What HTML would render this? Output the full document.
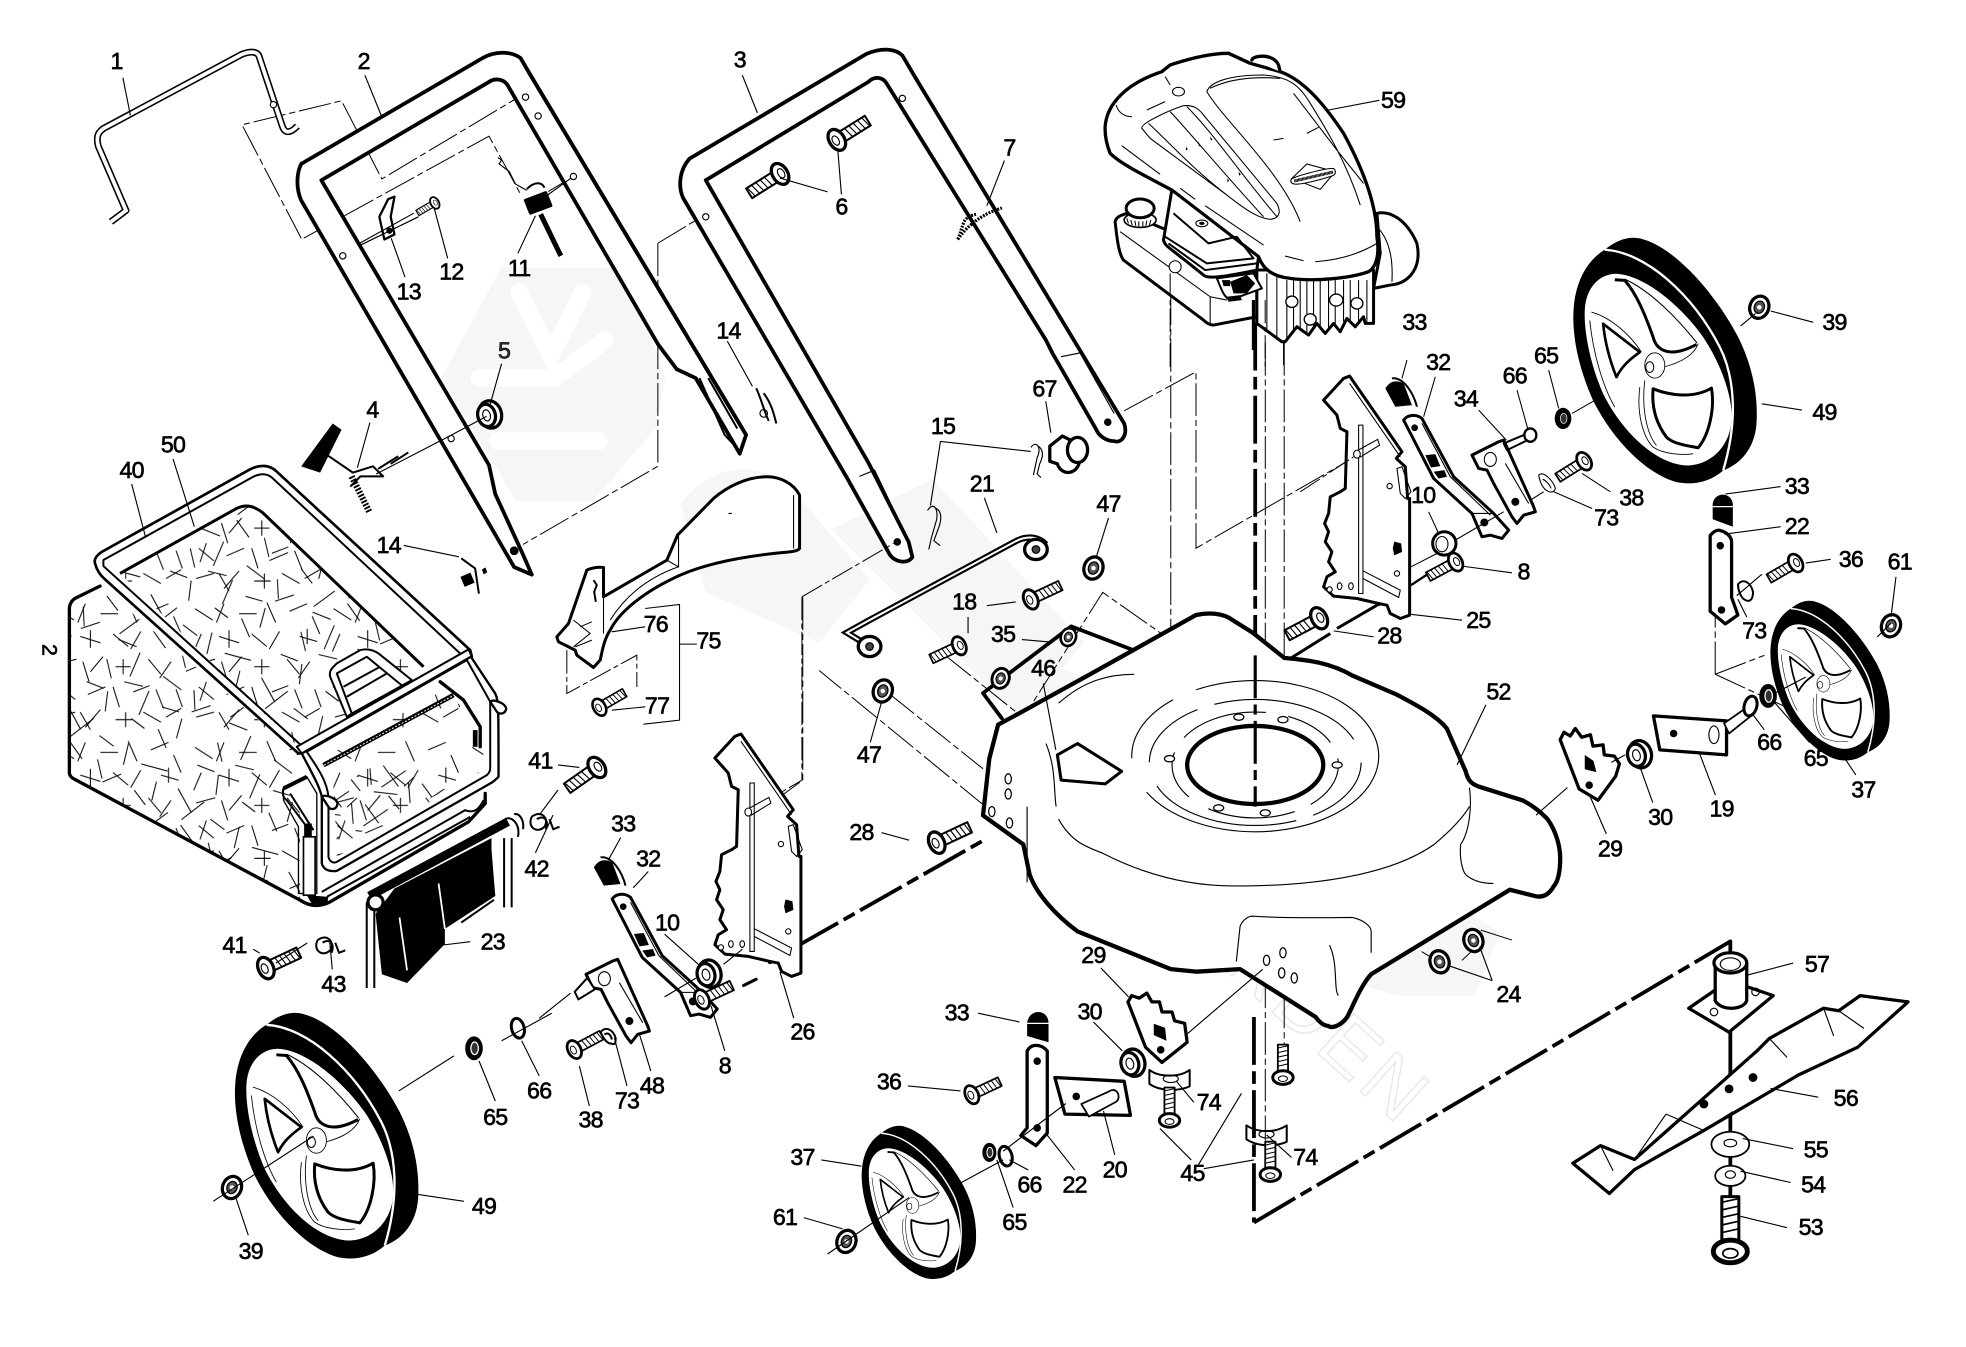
<!DOCTYPE html>
<html><head><meta charset="utf-8"><style>
html,body{margin:0;padding:0;background:#fff}
svg{display:block}
text{font-family:"Liberation Sans",sans-serif;font-size:18.5px;fill:#000;text-anchor:middle;stroke:#000;stroke-width:.5;letter-spacing:-.6px}
.k{fill:none;stroke:#000;stroke-width:3;stroke-linejoin:round;stroke-linecap:round}
.w{fill:#fff;stroke:#000;stroke-width:2.6;stroke-linejoin:round}
.m{fill:none;stroke:#000;stroke-width:1.6;stroke-linejoin:round}
.n{fill:none;stroke:#000;stroke-width:.9}
.d{fill:none;stroke:#000;stroke-width:.8;stroke-dasharray:26 3 5 3}
.kd{fill:none;stroke:#000;stroke-width:3;stroke-dasharray:38 5 10 5}
.b{fill:#000;stroke:#000}
.zk{fill:none;stroke:#000;stroke-width:10;stroke-linejoin:round;stroke-linecap:round}
.zw{fill:#fff;stroke:#000;stroke-width:9;stroke-linejoin:round}
.zm{fill:none;stroke:#000;stroke-width:6;stroke-linejoin:round}
.zn{fill:none;stroke:#000;stroke-width:3.2}
.zt{fill:#fff;stroke:#000;stroke-width:3.2}
.zd{fill:none;stroke:#000;stroke-width:3;stroke-dasharray:70 10 15 10}
</style></head><body>
<svg width="1966" height="1347" viewBox="0 0 1560 1068.8" xmlns="http://www.w3.org/2000/svg">
<defs>
<pattern id="fab" width="110" height="110" patternUnits="userSpaceOnUse" patternTransform="scale(3.78)">
<path fill="none" stroke="#000" stroke-width=".8" d="M5 8l14 9M28 4l-6 15M40 12h14M62 3l7 16M80 10l14-6M98 14l6 14M10 28l-6 14M24 30l16 5M32 25v14M50 28l12 10M72 26l-8 14M88 30l14 4M94 24v12M6 52l15-4M26 50l5 16M42 46l-10 12M52 54h12M58 48v12M78 48l10 12M96 50l-9 13M8 70l12 10M14 66l-5 15M30 76l14-6M50 70l5 16M66 74l13-5M84 72l6 15M100 72l5 14M6 94l14-4M24 90l8 14M40 88l-12 14M52 96h13M60 90v12M74 90l14 8M92 94l12-7"/>
</pattern>
<pattern id="fab2" width="110" height="110" patternUnits="userSpaceOnUse" patternTransform="scale(3.78) rotate(37) translate(13 29)">
<path fill="none" stroke="#000" stroke-width=".8" d="M5 8l20 9M28 4l-6 22M40 12h14M62 3l7 16M80 10l20-8M98 14l6 14M10 28l-6 20M24 30l16 5M50 28l12 10M72 26l-8 14M88 30l14 4M6 52l15-4M26 50l5 20M52 54h18M78 48l10 12M96 50l-9 13M8 70l12 10M30 76l14-6M50 70l5 20M66 74l13-5M84 72l6 15M6 94l14-4M24 90l8 14M52 96h13M74 90l14 8"/>
</pattern>
<pattern id="mesh" width="50" height="50" patternUnits="userSpaceOnUse" patternTransform="scale(3.78)">
<path fill="none" stroke="#000" stroke-width=".8" d="M2 6l14 12M20 2l-8 16M26 10l16-6M40 14l8 12M4 28l16-6M18 26l6 16M30 24l14 10M44 22l-12 14M6 42l14-3M26 42l14 6M40 42l6-12M12 34l-8 12"/>
</pattern>
<pattern id="mesh2" width="34" height="34" patternUnits="userSpaceOnUse" patternTransform="scale(3.78) rotate(25)">
<path fill="none" stroke="#000" stroke-width=".8" d="M2 6l18 10M20 2l-12 20M26 10l8 14M4 28l18-6M16 26l12 6M28 4l-4 10"/>
</pattern>
<g id="bolt">
<rect x="3" y="-4.5" width="26" height="9" class="w" style="stroke-width:1.6"/>
<path class="n" d="M10-4.5l2 9M14-4.5l2 9M18-4.5l2 9M22-4.5l2 9M26-4.5l2 9"/>
<ellipse cx="0" rx="6" ry="9" class="w"/><ellipse cx="-1" rx="2.5" ry="4" class="n"/>
</g>
<g id="nut"><ellipse rx="7.5" ry="9" class="w"/><ellipse rx="4" ry="5" class="b" style="fill:#555"/><circle r="1.8" fill="#fff"/></g>
<g id="wash"><ellipse rx="6.5" ry="9" class="b"/><ellipse cx=".5" rx="3" ry="5" fill="#333" stroke="#fff"/></g>
<g id="ring"><ellipse rx="5" ry="8" fill="#fff" stroke="#000" stroke-width="2.4"/></g>
<g id="spacer"><ellipse cx="2" rx="9" ry="11" class="w"/><ellipse cx="-1" rx="7" ry="9" class="w"/><ellipse cx="-1" rx="3" ry="4.5" class="n"/></g>
<g id="wheel">
<path fill="#000" d="M135 88C175 55 215 45 250 57 350 85 470 225 535 350 580 440 595 530 590 610 585 680 545 730 490 750 450 785 400 795 350 785 260 760 160 660 100 540 55 440 35 340 42 260 50 170 90 115 135 88Z"/>
<path fill="none" stroke="#fff" stroke-width="7" d="M135 88C260 95 400 225 480 380 525 470 535 600 490 750"/>
<path fill="#fff" d="M75 270C78 200 120 160 170 160 260 165 370 265 430 350 490 440 520 540 515 600 510 680 450 735 380 735 290 730 190 640 130 520 95 440 72 340 75 270Z"/>
<path fill="none" stroke="#000" stroke-width="9" stroke-linejoin="round" d="M165 178L195 180C230 220 255 280 280 350 290 390 330 415 410 372"/>
<path fill="none" stroke="#000" stroke-width="3.2" d="M195 176C270 210 350 290 412 368"/>
<path fill="#fff" stroke="#000" stroke-width="8" stroke-linejoin="round" d="M130 310L240 395C205 420 185 440 170 470 150 420 135 360 130 310Z"/>
<path fill="#fff" stroke="#000" stroke-width="9" stroke-linejoin="round" d="M280 505C330 525 400 535 455 503 465 560 450 640 415 682 380 675 340 670 320 650 290 610 275 560 280 505Z"/>
<path fill="none" stroke="#000" stroke-width="2.6" d="M95 275C150 290 210 340 245 395M90 300C100 400 130 500 165 560M240 500C230 580 250 650 280 680 310 700 360 705 400 700M310 440C350 430 400 410 415 370M255 480C245 560 260 640 290 675"/>
<ellipse cx="285" cy="435" rx="30" ry="38" fill="#fff" stroke="#000" stroke-width="2.6"/>
<ellipse cx="270" cy="440" rx="12" ry="16" fill="#fff" stroke="#000" stroke-width="3"/>
</g>
<g id="brk">
<path class="zw" d="M100 120L160 55 178 48 335 275 318 295 345 320 352 415 358 415V765L330 775 300 760 290 735 265 730 200 715 130 708 100 680 110 650 135 635 115 605 125 575 105 545 115 515 103 490 115 460 120 410 150 395 165 385 170 215 150 205 140 165Z"/>
<g class="zn"><path d="M205 195H218V700H205ZM218 632L330 690 325 712 218 655M178 70L330 290M190 278L262 238 268 255 208 292M320 325L335 320 362 395 345 415 330 400Z"/></g>
<ellipse cx="200" cy="282" rx="10" ry="12" class="zt"/><circle cx="298" cy="378" r="8" class="zt"/><circle cx="320" cy="640" r="8" class="zt"/><circle cx="118" cy="688" r="8" class="zt"/><ellipse cx="148" cy="678" rx="7" ry="10" class="zt"/><ellipse cx="182" cy="678" rx="7" ry="10" class="zt"/>
<path class="b" d="M312 545L332 550 335 575 312 585 308 565Z"/><circle cx="265" cy="732" r="6" fill="#000"/>
</g>
<g id="arm">
<path class="zw" d="M340 180C350 165 375 160 395 175L490 350 610 460 655 510 635 535 600 525 575 530 545 460 430 355Z"/>
<path class="zn" d="M545 460L610 460M395 190L480 350 600 465"/>
<circle cx="373" cy="203" r="10" fill="#000"/><circle cx="582" cy="487" r="12" fill="#000"/>
<path fill="#000" d="M405 285L435 282 450 318 422 322ZM430 335L462 330 470 350 445 355Z"/>
<path fill="#000" d="M285 85C300 60 320 60 340 70L365 135 315 140Z"/><path class="zm" d="M305 55C340 50 370 100 380 140"/>
</g>
<g id="plate">
<path class="zw" d="M545 285L625 245 640 240 730 440 735 455 700 465 680 490 665 470 610 370 590 330 565 325Z"/>
<path class="zn" d="M645 310L715 430"/><ellipse cx="600" cy="298" rx="18" ry="21" class="zt"/><circle cx="675" cy="425" r="12" fill="#000"/>
</g>
</defs>

<!-- watermark -->
<g fill="#f6f6f6" stroke="none">
<path d="M398 212H497L528 300 520 340 470 398H410L350 300Z"/>
<path d="M540 400c30-40 70-30 90-10l60 70-40 50-90-40zM660 420l80-40 120 130-50 60zM800 590l40-60 120 40 60 140-50 40-130-60zM960 680l60-50 170 110-20 50-60 0-70-20z" />
</g>
<path d="M412 232l25 50 25-50M380 300h60l40-30M395 350h80" fill="none" stroke="#fff" stroke-width="14" stroke-linecap="round"/>
<text transform="translate(897 702) rotate(42)" style="font-size:62px;fill:none;stroke:#e6e6e6;stroke-width:1;text-anchor:start;letter-spacing:4px">GARDEN</text>

<!-- thin dashed leaders -->
<path class="d" d="M239 189L192 99 271 80 303 142 415 75M241 189L388 108 413 154M435 152L455 140M285 195L332 172M522 193V370L415 432M522 193L560 170M892 326L949 295V435L1083 358M929 232V610M1004 272V640M1019 272V830M1004 700V905M782 640L650 532M785 612L875 470 1003 560M705 550L780 610M750 520L900 640M1361 535V485M1361 535L1400 520M1361 535L1415 560M1148 767l-20-12M1160 762l15-14M1175 738l25 8"/>
<path class="kd" d="M632 751L780 667M995 807V970M995 970L1373 747M996 256V640"/>
<path class="k" d="M1373 747V960M780 550L795 570M780 550L850 497 905 518"/>

<!-- wire handle 1 -->
<path d="M88 176L100 167 78 116C76 108 78 105 82 102L192 43C200 40 205 41 206 46L224 100C226 106 230 106 236 100" fill="none" stroke="#000" stroke-width="5.5" stroke-linejoin="round"/>
<path d="M88 176L100 167 78 116C76 108 78 105 82 102L192 43C200 40 205 41 206 46L224 100C226 106 230 106 236 100" fill="none" stroke="#fff" stroke-width="3"/>

<!-- handle 2 -->
<path class="k" d="M422 456L408 450 239 159C235 150 235 138 239 130L383 46C392 41 405 40 413 46L420 58 592 345 587 360 552 300 537 293 522 273 403 68C400 62 392 62 388 65L255 143 388 369 393 392 415 440Z" style="fill:#fff"/>
<path class="m" d="M555 300L575 345 587 358M562 300L585 340"/>
<path class="k" d="M420 58L592 345"/>

<!-- handle 3 -->
<path class="k" d="M724 442C720 448 710 446 706 440L672 379 542 157C538 148 539 135 547 126L687 43C698 38 710 38 716 44L726 61 892 336C895 345 890 352 884 350 878 350 872 346 870 341L835 280 830 270 704 67C701 61 694 60 689 65L560 143 689 367 721 430Z" style="fill:#fff"/>
<path class="n" d="M682 378L694 373 722 432M842 283L857 280 884 328"/>

<!-- deflector -->
<g transform="translate(428.6 333.3) scale(.2646)">
<path class="zw" d="M190 530L380 420 412 345 520 235C560 200 620 170 680 170 720 170 760 190 778 225V385C770 395 750 395 720 398 600 410 500 430 420 465 320 510 240 570 210 630 190 660 185 700 180 720L160 742 110 705 105 690 55 665 50 650 85 610 140 450C150 445 170 440 190 442Z"/>
<path class="zn" d="M190 442V640M760 225V385M415 345V440L380 420M210 600C260 520 330 470 415 440M565 280h10M100 600L150 640 100 680M120 620L155 605M105 680L155 660"/>
<path class="zm" d="M160 480l10 15-8 20 5 30"/>
<path class="zd" d="M80 690V820L290 705V800M785 530V1080L725 1115M785 530L1060 370"/>
<path class="zn" d="M315 565L418 553V900L310 912M418 672H470M215 635L315 620M215 870L315 860"/>
</g>

<!-- bag -->
<g transform="translate(39.7 365) scale(.2646)">
<path fill="#fff" d="M150 378L75 415C60 425 58 440 58 445V940C60 950 68 955 75 958L750 1320 800 1335 840 1325 1305 1040V800L600 300Z"/>
<path fill="url(#fab)" d="M150 378L75 415C60 425 58 440 58 445V940C60 950 68 955 75 958L750 1320V1100L745 880Z"/>
<path fill="url(#fab2)" d="M150 378L75 415C60 425 58 440 58 445V940C60 950 68 955 75 958L750 1320V1100L745 880Z"/>
<path class="zk" style="fill:none" d="M150 378L75 415C60 425 58 440 58 445V940C60 950 68 955 75 958L750 1320C780 1340 810 1340 840 1325L1255 1085 1305 1030V1000"/>
<path fill="#fff" stroke="#000" stroke-width="8" stroke-linejoin="round" d="M135 310C130 295 145 280 165 270L600 28C630 12 660 15 680 35L1260 570 1265 590 755 880 745 880 165 358C150 345 140 330 135 310Z"/>
<path class="zm" d="M160 300L610 50C635 38 655 42 668 55L1235 585 758 860 160 318Z"/>
<path fill="url(#fab)" d="M210 340L560 145C590 130 615 140 640 160L1085 580 1090 650 900 770 745 860Z"/>
<path fill="url(#fab2)" d="M210 340L560 145C590 130 615 140 640 160L1085 580 1090 650 900 770 745 860Z"/>
<path fill="none" stroke="#000" stroke-width="9" d="M210 340L560 145C590 130 615 140 640 160L1120 620"/>
<path class="zw" style="stroke-width:6" d="M890 770L840 650C835 630 850 620 860 610L930 570C950 565 970 570 985 580L1085 660 905 760Z"/>
<path class="zm" d="M905 760L860 640 950 590 1060 680M880 680L990 620M890 710L1010 640"/>
<path class="zw" style="stroke-width:6" d="M740 860L1255 568 1265 590 755 880Z"/>
<path fill="#fff" stroke="#000" stroke-width="7" stroke-linejoin="round" d="M755 880L1262 590 1335 700C1345 720 1345 740 1345 950 1340 955 1330 965 1320 970L860 1232C840 1235 820 1230 815 1210V1010C810 980 775 920 755 880Z"/>
<path fill="#fff" stroke="#000" stroke-width="6" stroke-linejoin="round" d="M835 1010V1190C838 1205 850 1210 860 1205L1310 945C1320 935 1320 930 1320 920V725L1250 600 770 875C800 920 830 960 835 1010Z"/>
<path fill="url(#fab)" d="M845 880L1180 690 1300 800V930L860 1190Z"/>
<path fill="url(#mesh2)" d="M850 990L1000 900 1190 990 860 1150Z"/>
<path fill="none" stroke="#000" stroke-width="14" d="M820 915L1210 705"/>
<path fill="none" stroke="#fff" stroke-width="3" stroke-dasharray="6 5" d="M822 915L1210 706"/>
<path class="zk" d="M1170 665L1240 720 1290 800V860"/>
<path fill="none" stroke="#000" stroke-width="14" d="M1275 810V860"/>
<path class="zw" style="stroke-width:7" d="M1320 725C1330 715 1365 730 1368 745 1365 765 1345 762 1340 755Z"/>
<path class="zw" style="stroke-width:7" d="M815 1010C825 1000 860 1015 862 1030 860 1050 840 1050 835 1040Z"/>
<path fill="#fff" d="M815 1290L1250 1050 1260 1070 835 1315Z"/><path class="zm" d="M815 1295L1245 1050C1270 1060 1285 1050 1300 1020M830 1310L1260 1070"/>
<path fill="#fff" stroke="#000" stroke-width="4" d="M700 985L770 950 800 1000 800 1300 745 1300 745 1100 700 1020Z" style="fill:none"/>
<path fill="none" stroke="#000" stroke-width="12" d="M700 985L770 950"/>
<path class="zm" d="M700 985C695 1000 700 1015 710 1020L770 1100M720 1000L790 1110"/>
<path fill="#000" d="M762 1090H785V1135H762ZM770 1305L835 1310 830 1335 790 1340Z"/>
<rect x="760" y="1130" width="35" height="175" fill="#fff" stroke="#000" stroke-width="5"/>
</g>

<!-- flap 23 -->
<path d="M293 711L403 652" stroke="#000" stroke-width="7"/>
<path d="M313 705L390 665 390 674 393 711 353 737 353 749 323 780 303 773 298 725Z" fill="#000"/>
<path d="M348 701L353 737M317 728L323 770" stroke="#fff" stroke-width="1.4"/>
<path class="m" d="M291 716V784M297 716V784M400 665V720M406 665V720M366 732L392 714"/>
<path class="m" d="M401 650c5-3 12 4 10 14M408 646c5-1 8 6 7 12"/>
<circle cx="298" cy="716" r="6" class="w"/>

<!-- deck -->
<path d="M780 647L785 602 792 575 805 568 865 535 949 488C958 486 970 486 978 492L994 502 1019 522C1040 524 1056 526 1073 536L1108 551C1125 560 1140 568 1148 578L1163 612C1165 620 1168 622 1173 624L1208 635C1218 640 1224 646 1228 650 1235 660 1238 672 1238 681 1238 692 1236 700 1233 703 1228 712 1222 712 1218 711L1198 706 1088 773C1080 782 1075 795 1069 807 1063 815 1056 816 1054 814 1050 814 1046 810 1044 807L984 769 949 771 929 769 855 739C836 725 822 708 817 694L812 670Z" fill="#fff" stroke="#000" stroke-width="3.4" stroke-linejoin="round"/>
<path class="m" d="M780 647L812 670"/>
<g fill="none" stroke="#000" stroke-width=".9">
<ellipse cx="996" cy="607" rx="66" ry="42" stroke-dasharray="40 14 70 18"/>
<ellipse cx="996" cy="605" rx="84" ry="50" stroke-dasharray="60 14 120 20"/>
<ellipse cx="996" cy="600" rx="98" ry="60" stroke-dasharray="220 30 60 20"/>
<path d="M840 650C850 668 862 672 875 677 910 695 945 703 979 703 1020 703 1050 700 1078 694 1105 688 1124 680 1138 670 1150 660 1160 650 1166 640"/>
<path d="M830 590C838 610 836 626 838 640M815 640V700M840 558C860 540 880 535 900 535"/>
<path d="M1159 670C1158 680 1160 690 1163 694 1170 700 1178 701 1185 701M1166 625C1168 640 1166 660 1159 670"/>
<path d="M981 763L984 735C986 730 990 727 994 727 1030 729 1050 728 1073 728 1082 730 1088 735 1088 739V756M1055 750C1062 765 1058 785 1062 790"/>
</g>
<ellipse cx="996" cy="607" rx="54" ry="31" fill="#fff" stroke="#000" stroke-width="3.4"/>
<path d="M996 520V640" stroke="#000" stroke-width="2.5" stroke-dasharray="34 5 8 5"/>
<path d="M839 599L855 590 890 612 877 622 842 619Z" fill="#fff" stroke="#000" stroke-width="2.4" stroke-linejoin="round"/>
<g fill="#fff" stroke="#000" stroke-width="1">
<ellipse cx="983" cy="569" rx="4" ry="2.5"/><ellipse cx="1018" cy="571" rx="4" ry="2.5"/><ellipse cx="1061" cy="607" rx="4" ry="2.5"/><ellipse cx="1004" cy="645" rx="4" ry="2.5"/><ellipse cx="967" cy="641" rx="4" ry="2.5"/><ellipse cx="928" cy="602" rx="4" ry="2.5"/>
<ellipse cx="800" cy="618" rx="2.5" ry="4"/><ellipse cx="800" cy="630" rx="2.5" ry="4"/><ellipse cx="787" cy="644" rx="2.5" ry="4"/><ellipse cx="801" cy="653" rx="2.5" ry="4"/>
<ellipse cx="1005" cy="762" rx="2.5" ry="4"/><ellipse cx="1018" cy="756" rx="2.5" ry="4"/><ellipse cx="1017" cy="772" rx="2.5" ry="4"/><ellipse cx="1027" cy="776" rx="2.5" ry="4"/>
</g>

<!-- engine -->
<g transform="translate(865 31.7) scale(.2646)">
<path class="zw" d="M860 520C900 510 950 540 980 610 995 680 960 730 900 735L850 745 870 640Z"/>
<path class="zn" d="M860 560C890 590 910 640 905 725"/>
<path class="zw" d="M75 545C78 530 95 525 110 520L230 570 500 700V830L370 855C355 855 345 845 340 840L100 660C85 640 80 590 75 545Z"/>
<path class="zn" d="M90 575L360 770V850M360 770L410 780"/>
<circle cx="255" cy="680" r="18" class="zt"/>
<ellipse cx="150" cy="540" rx="48" ry="22" class="zw" style="stroke-width:5"/>
<path class="zn" d="M110 535l5 15M122 540l4 15M134 542l3 15M146 544v15M158 544v15M170 542l-3 15M182 540l-4 15"/>
<ellipse cx="150" cy="505" rx="42" ry="28" class="zw"/>
<path class="zw" d="M500 690H850V850H825L820 830 795 860 770 835 750 875 730 850 705 880 680 850 655 885 620 860 585 905H575L500 850Z"/>
<path class="zn" d="M530 700V870M560 700V895M590 720V895M610 720V875M630 720V870M650 720V885M670 720V860M690 720V865M715 720V870M735 720V860M760 720V845M780 720V850M805 720V850M830 720V845"/>
<g class="zw" style="stroke-width:4"><ellipse cx="605" cy="785" rx="18" ry="17"/><ellipse cx="660" cy="838" rx="18" ry="17"/><ellipse cx="738" cy="780" rx="20" ry="18"/><ellipse cx="800" cy="790" rx="18" ry="17"/></g>
<path fill="#fff" stroke="#000" stroke-width="10" stroke-linejoin="round" d="M45 260C50 190 110 130 215 95L240 75C300 55 360 40 415 40L480 70 570 95C640 120 700 190 760 280 820 390 860 500 860 590 868 640 860 680 835 695 780 715 670 725 600 715 550 710 520 690 505 650L245 450C150 400 90 370 60 340 48 310 44 285 45 260Z"/>
<path class="zk" style="fill:#fff" d="M485 60C490 45 550 40 565 75L570 95"/>
<path class="zn" d="M155 265C150 250 240 210 280 197 310 195 325 205 340 225L560 490C575 520 565 535 540 538 510 535 480 520 410 465L180 295ZM175 250C230 300 300 380 410 465M240 215C310 290 400 400 520 530M290 200C370 280 450 400 560 530"/>
<path class="zn" d="M350 155C360 125 420 105 520 105 590 110 625 130 660 190 710 270 770 370 810 495M350 155C400 240 570 390 630 545M360 145C420 115 500 110 570 115M610 160L740 330 820 430M170 210L225 185M95 317L210 403M78 195C85 220 105 230 125 230M550 300L580 295M650 280L685 262M225 110L240 135M270 445L315 478M345 497L520 615M585 648L640 662M675 665C750 660 810 640 860 610"/>
<ellipse cx="265" cy="155" rx="18" ry="13" class="zt"/>
<path fill="#000" d="M288 320l5 8-6 3zM325 305l5 12-4 3zM360 290l7 8-5 4zM412 415l5 8-6 3zM445 395l7 8-5 4z"/>
<path class="zt" d="M605 415L650 372 735 395 690 448Z"/>
<path class="zt" d="M603 418C610 410 700 385 730 385 740 395 735 405 725 408 690 420 630 435 612 432 603 430 600 425 603 418Z"/>
<path stroke="#000" stroke-width="9" stroke-dasharray="3 1" d="M612 423L728 396"/>
<path class="zw" d="M245 450L220 600C225 620 230 615 340 705 350 715 380 715 500 690L505 650Z"/>
<path class="zm" d="M225 590L350 670 490 655 440 590 355 610 250 520M235 610L345 690 500 670"/>
<ellipse cx="335" cy="550" rx="18" ry="10" class="zt"/><ellipse cx="335" cy="550" rx="8" ry="5" fill="#000"/>
<path class="zw" style="stroke-width:6" d="M380 715C395 750 400 770 420 780L515 745 490 700Z"/>
<path fill="#000" d="M420 725L470 705 495 730 470 760 430 760ZM395 720h25v18h-20zM410 770l40-5 5 15-40 5z"/>
<path d="M490 780V940" stroke="#000" stroke-width="10" stroke-dasharray="150 20"/>
<path class="zd" d="M240 700V980M525 780V980M580 905V980"/>
</g>

<!-- right bracket, arm, plate -->
<g transform="translate(1023.8 285.7) scale(.2646)">
<use href="#brk"/><use href="#arm"/><use href="#plate"/>
<path class="zm" d="M640 250L700 225 712 240 650 270Z"/>
<ellipse cx="720" cy="225" rx="18" ry="20" class="zw" style="stroke-width:7"/>
<ellipse cx="818" cy="175" rx="25" ry="32" fill="#000"/><ellipse cx="820" cy="175" rx="10" ry="15" fill="#333" stroke="#fff" stroke-width="2"/>
<path class="zt" d="M745 345C760 330 790 365 795 385 790 405 755 400 745 345Z"/><path class="zn" d="M757 358C768 360 780 378 782 385"/>
<ellipse cx="462" cy="550" rx="35" ry="35" class="zw"/><ellipse cx="455" cy="552" rx="18" ry="23" class="zt"/>
<path class="zn" d="M440 580L362 620M495 540L640 455M760 395L720 420M845 160L915 120M680 90L712 205M775 30L805 145M565 150L648 240M435 50L400 170M350 0L335 55M415 455L445 520M515 618L665 638M358 762L515 780M130 812L250 830M790 395L905 445M875 340L960 395"/>
<path fill="none" stroke="#000" stroke-width="7" d="M415 640L362 675"/>
<path fill="none" stroke="#000" stroke-width="9" d="M260 735L140 805M120 820L0 895"/>
<path class="zd" d="M30 395L190 290"/>
</g>
<!-- left bracket, arm, plate -->
<g transform="translate(540.8 569.7) scale(.2646)"><use href="#brk"/></g>
<g transform="translate(395.8 665.7) scale(.2646)"><use href="#arm"/></g>
<g transform="translate(320.8 697.7) scale(.2646)"><use href="#plate"/></g>
<path class="w" style="stroke-width:1.6" d="M466 776L456 787 459 793 472 785Z"/>
<path class="d" d="M637 474V619L622 630"/>
<path class="k" style="stroke-width:2.4" d="M600 777L590 782"/>

<!-- wheel brackets -->
<path class="w" d="M1357 425C1360 421 1364 420 1365 421 1370 422 1374 426 1374 430V474L1379 488 1369 495 1357 485Z"/><circle cx="1365" cy="433" r="3" fill="#000"/><circle cx="1366" cy="484" r="3" fill="#000"/>
<path d="M1359 400C1360 390 1374 390 1375 400V418L1359 412Z" fill="#000"/><path d="M1359 402h16" stroke="#fff"/>
<path class="w" d="M815 834C818 828 826 828 831 834V899L822 909 810 901 815 895Z"/><circle cx="823" cy="842" r="3" fill="#000"/><circle cx="823" cy="895" r="3" fill="#000"/>
<path d="M815 812C816 800 832 800 832 812V827L815 822Z" fill="#000"/><path d="M815 812h17" stroke="#fff"/>
<path class="w" d="M837 855L892 858 897 885 845 884Z"/>
<path class="w" d="M858 876L880 866C886 862 890 870 886 874L864 886Z" style="stroke-width:1.4"/><circle cx="854" cy="870" r="3" fill="#000"/>
<path class="w" d="M1312 568L1370 572 1370 599 1317 595Z"/><circle cx="1328" cy="582" r="3" fill="#000"/>
<path class="w" d="M1368 574L1388 560 1392 566 1372 582Z" style="stroke-width:1.4"/><ellipse cx="1360" cy="583" rx="4" ry="7" class="n"/>
<!-- gears -->
<path class="w" d="M1238 587L1241 581 1246 584 1250 578 1255 585 1262 583 1264 592 1272 591 1273 599 1281 600 1285 606 1282 616 1268 635 1253 626Z"/><path class="b" d="M1258 600l6 4 2 8-8-2z"/><circle cx="1261" cy="623" r="3" fill="#000"/>
<path class="w" d="M895 795L898 790 904 792 910 788 914 795 920 795 922 803 930 803 932 810 940 812 942 827 922 843 909 831Z"/><path class="b" d="M916 813l8 3 1 9-9-4z"/><circle cx="921" cy="833" r="3" fill="#000"/>
<!-- plates 74 -->
<path class="m" d="M912 849V860C920 866 935 866 944 862V849C936 855 920 855 912 849Z"/><ellipse cx="929" cy="856" rx="6" ry="3" class="n"/>
<path class="m" d="M989 893V904C998 910 1012 910 1021 906V893C1012 899 998 899 989 893Z"/><ellipse cx="1005" cy="900" rx="6" ry="3" class="n"/>

<!-- blade -->
<path class="w" d="M1248 923L1270 909 1297 920 1394 834 1404 824 1447 800 1459 802 1476 790 1514 795 1474 831 1427 853 1352 897 1297 928 1277 947Z"/>
<path class="n" d="M1270 909l10 20M1297 920L1322 884M1322 884L1352 897 1375 882M1404 824l14 15M1447 800l8 22M1459 802l20 14"/>
<circle cx="1352" cy="876" r="3.5" fill="#000"/><circle cx="1372" cy="864" r="3.5" fill="#000"/><circle cx="1391" cy="855" r="3.5" fill="#000"/>
<path class="w" d="M1340 800L1372 778 1407 790 1372 819Z"/>
<path class="w" d="M1361 764V794C1365 802 1383 802 1386 794V764Z"/><ellipse cx="1373" cy="764" rx="13" ry="8" class="w"/><ellipse cx="1373" cy="765" rx="8" ry="5" class="n"/>
<circle cx="1393" cy="787" r="3" class="n"/><circle cx="1360" cy="803" r="3" class="n"/>
<ellipse cx="1373" cy="908" rx="15" ry="10" class="w" style="stroke-width:1.4"/><ellipse cx="1373" cy="907" rx="5" ry="3" class="n"/>
<ellipse cx="1373" cy="933" rx="12" ry="8" class="w" style="stroke-width:1.4"/><ellipse cx="1373" cy="932" rx="4" ry="3" class="n"/>

<!-- rod 21 -->
<path d="M690 513L672 502 690 492 805 430C812 426 822 424 830 432" fill="none" stroke="#000" stroke-width="5"/>
<path d="M690 513L672 502 690 492 805 430C812 426 822 424 830 432" fill="none" stroke="#fff" stroke-width="1.6"/>
<ellipse cx="690" cy="513" rx="9" ry="8" class="w"/><circle cx="690" cy="513" r="3" class="b" style="fill:#444"/>
<ellipse cx="822" cy="436" rx="9" ry="8" class="w"/><circle cx="822" cy="436" r="3" class="b" style="fill:#444"/>

<!-- knob 4 & spring -->
<path d="M239 370L264 336 271 341 254 375Z" fill="#000"/>
<path class="m" d="M258 360L280 375 296 370 304 378 286 378 278 386M300 372l16-10M310 368l14-9"/>
<path d="M279 378L293 406" stroke="#000" stroke-width="5" stroke-dasharray="1.5 1.2"/>
<!-- 11 -->
<path class="w" d="M417 159l16-6 4 10-16 6Z" style="fill:#000"/><path d="M429 170L445 203" stroke="#000" stroke-width="4"/><path class="m" d="M418 150c6-6 12-6 14-1"/><path class="n" d="M395 125l3 2-2 3 8 6 5 10 9 5"/>
<!-- 13 -->
<path class="w" d="M308 158L313 156 310 172 313 186 305 190 301 172Z" style="stroke-width:1.8"/><circle cx="309" cy="183" r="2.5" fill="#000"/>
<use href="#bolt" transform="translate(345 161) rotate(150) scale(.55)"/>
<path class="n" d="M285 195L332 172M430 158L455 140"/>
<!-- small handle holes -->
<g fill="#fff" stroke="#000" stroke-width=".9"><circle cx="417" cy="77" r="2.5"/><circle cx="427" cy="92" r="2.5"/><circle cx="455" cy="140" r="2.5"/><circle cx="272" cy="203" r="2.5"/><circle cx="358" cy="348" r="2.5"/><circle cx="560" cy="172" r="2.5"/><circle cx="716" cy="78" r="2.5"/><circle cx="217" cy="83" r="2.5"/></g>
<circle cx="408" cy="437" r="3.5" fill="#000"/><circle cx="712" cy="430" r="3" fill="#000"/><circle cx="879" cy="335" r="3" fill="#000"/>
<!-- 14 clips -->
<path class="b" d="M366 458l7-3 3 7-7 3zM383 452l2-1 1 3-2 1z"/><path class="m" d="M366 443l11 8 3 20"/>
<path class="m" d="M600 308c4 8 6 18 10 26M606 312c6 8 8 16 10 24"/><circle cx="606" cy="328" r="3" class="n"/>
<!-- 15 clips, 67 clamp -->
<path class="n" d="M736 405c5-8 9 0 7 8l-4 14-2 9M742 403c5 2 6 8 2 18l-3 8 5 4M818 355c4-6 9 0 5 8l-3 14M824 354c4 3 4 8 1 14l-2 8 3 3"/>
<path class="w" d="M833 354l10-8 6 3v6a9 10 0 1 1-10 13l-6-2Z"/><ellipse cx="855" cy="357" rx="8" ry="10" class="w"/>
<!-- 7 tie -->
<path d="M760 190C770 175 785 168 795 165M760 190C765 178 763 172 775 170" fill="none" stroke="#000" stroke-width="2.5" stroke-dasharray="1.5 1"/>
<!-- springs -->
<path d="M422 648c8-6 14 2 10 8-6 6-14 0-10-8Zm4 2c6-4 10 2 7 8" class="m"/><path class="m" d="M436 650l3 8 5-2"/>
<path d="M252 746c8-6 14 2 10 8-6 6-14 0-10-8Zm4 2c6-4 10 2 7 8" class="m"/><path class="m" d="M266 748l3 8 5-2"/>

<!-- bolts exact -->
<use href="#bolt" transform="translate(619 138) rotate(148)"/><use href="#bolt" transform="translate(664 111) rotate(-32)"/>
<use href="#bolt" transform="translate(557 793) rotate(-25) scale(.9)"/>
<use href="#bolt" transform="translate(1155 446) rotate(152) scale(.85)"/><use href="#bolt" transform="translate(1257 366) rotate(148) scale(.85)"/>
<use href="#bolt" transform="translate(1018 855) rotate(-90) scale(.9)"/><use href="#bolt" transform="translate(928 889) rotate(-90) scale(.9)"/><use href="#bolt" transform="translate(1008 932) rotate(-90) scale(.9)"/>
<use href="#bolt" transform="translate(1373 993) rotate(-90) scale(1.5)"/>

<!-- wheels -->
<use href="#wheel" transform="translate(1321 286) scale(.2646) translate(-315 -420)"/>
<use href="#wheel" transform="translate(259 901) scale(.2646) translate(-315 -420)"/>
<use href="#wheel" transform="translate(1452 540) scale(.172) translate(-315 -420)"/>
<use href="#wheel" transform="translate(729 954) scale(.165) translate(-315 -420)"/>

<!-- items read at display scale -->
<g transform="scale(.995)">
<use href="#bolt" transform="translate(822 478) rotate(-25) scale(.9)"/><use href="#bolt" transform="translate(765 515) rotate(155) scale(.85)"/>
<use href="#bolt" transform="translate(478 564) rotate(-30) scale(.8)"/><use href="#bolt" transform="translate(476 612) rotate(145)"/>
<use href="#bolt" transform="translate(212 772) rotate(-25)"/><use href="#bolt" transform="translate(747 672) rotate(-25)"/>
<use href="#bolt" transform="translate(1052 493) rotate(152)"/>
<use href="#bolt" transform="translate(458 837) rotate(-28) scale(.85)"/>
<use href="#bolt" transform="translate(775 873) rotate(-25) scale(.85)"/>
<use href="#bolt" transform="translate(1432 449) rotate(150) scale(.85)"/>
<use href="#nut" transform="translate(1403 245) rotate(20)"/><use href="#nut" transform="translate(185 947) rotate(20)"/><use href="#nut" transform="translate(1508 499) rotate(20)"/><use href="#nut" transform="translate(675 990) rotate(20)"/>
<use href="#nut" transform="translate(872 453) rotate(20)"/><use href="#nut" transform="translate(704 551) rotate(20)"/><use href="#nut" transform="translate(1148 767) rotate(-20)"/><use href="#nut" transform="translate(1175 750) rotate(-20)"/><use href="#nut" transform="translate(798 541) rotate(20) scale(.9)"/><use href="#nut" transform="translate(852 508) rotate(20) scale(.8)"/>
<use href="#wash" transform="translate(378 836)"/><use href="#wash" transform="translate(1410 555)"/><use href="#wash" transform="translate(789 919) scale(.8)"/>
<use href="#ring" transform="translate(413 820) rotate(-15)"/><use href="#ring" transform="translate(1396 563) rotate(15)"/><use href="#ring" transform="translate(802 922) rotate(-15)"/>
<use href="#spacer" transform="translate(389 331) rotate(-15)"/><use href="#spacer" transform="translate(1306 602) rotate(-15)"/><use href="#spacer" transform="translate(902 848) rotate(-15)"/><use href="#spacer" transform="translate(564 777) rotate(-15)"/>
<path class="m" d="M479 823c4-5 10-2 12 5 0 7-2 4-5 4-3-1-6-6-7-9ZM482 825c3-2 5 0 6 4"/>
<path class="m" d="M1386 466c4-5 10-2 12 6 0 8-4 8-7 6-3-2-5-8-5-12Z"/>

<!-- leader lines -->
<path class="n" d="M98 62L104 92M291 60L304 92M592 60L604 90M671 155L668 118M660 153L622 142M801 128L787 164M1100 80L1058 88M357 206L346 165M323 221L312 190M413 202L427 172M400 290L391 322M295 337L285 373M138 366L155 420M105 386L116 428M580 272L600 308M322 435L366 444M750 352L742 403M750 352L822 360M834 320L838 345M785 397L795 425M884 413L874 445M787 483L810 480M772 492V505M815 510L838 512M832 545L842 598M694 592L703 560M445 610L462 612M427 680L441 650M495 668L485 686M517 695L505 708M530 745L558 770M703 664L725 670M375 751L350 754M202 757L207 760M265 773L263 752M578 838L567 802M633 812L622 775M519 854L510 825M500 866L490 828M430 858L416 830M395 878L382 846M470 882L462 850M780 808L813 815M724 866L766 870M878 772L900 795M872 815L895 838M952 879L938 862M1030 923L1010 905M950 925L925 900M960 932L1000 925M955 930L990 872M889 921L880 886M857 933L835 905M820 933L805 925M808 963L795 925M655 925L687 930M641 971L672 980M370 958L330 952M198 985L188 955M1185 562L1162 610M1281 665L1268 635M1318 640L1308 612M1368 634L1355 600M1407 582L1398 570M1443 592L1415 560M1480 618L1468 600M1393 492L1386 478M1460 446L1440 449M1512 460L1508 492M1420 420L1375 426M1420 388L1376 394M1446 257L1412 248M1437 327L1405 322M1190 782L1155 770M1190 782L1180 755M1430 768L1392 778M1450 875L1412 868M1430 916L1390 908M1428 943L1388 934M1425 979L1388 970M1250 628L1225 650M1285 608L1296 602M1007 773L945 826M1400 250L1388 260M170 958L250 906M660 1000L725 955M763 945L800 925M850 880L800 918M1440 540L1415 553M1508 497L1497 508M1405 458L1385 475M318 870L362 842M400 830L440 808M430 812L455 792M530 795L555 780M577 769L592 757M445 630L430 650M245 752L220 768"/>
<path class="n" d="M330 170L285 195M388 332L358 348M358 348L300 378"/>

<!-- labels -->
<text x="93" y="55">1</text><text x="290" y="55">2</text><text x="590" y="54">3</text><text x="671" y="171">6</text><text x="805" y="124">7</text><text x="1111" y="86">59</text><text x="360" y="223">12</text><text x="326" y="239">13</text><text x="414" y="220">11</text><text x="402" y="286" style="fill:#333">5</text><text x="297" y="333">4</text><text x="138" y="361">50</text><text x="105" y="381">40</text><text x="581" y="270">14</text><text x="310" y="441">14</text><text x="752" y="346">15</text><text x="833" y="316">67</text><text x="783" y="392">21</text><text x="884" y="408">47</text><text x="769" y="486">18</text><text x="800" y="512">35</text><text x="832" y="539">46</text><text x="523" y="504">76</text><text x="565" y="517">75</text><text x="524" y="569">77</text><text x="693" y="608">47</text><text x="431" y="613">41</text><text x="428" y="699">42</text><text x="497" y="663">33</text><text x="517" y="691">32</text><text x="532" y="742">10</text><text x="687" y="670">28</text><text x="393" y="757">23</text><text x="187" y="760">41</text><text x="266" y="791">43</text><text x="578" y="856">8</text><text x="640" y="829">26</text><text x="520" y="872">48</text><text x="500" y="884">73</text><text x="430" y="876">66</text><text x="395" y="897">65</text><text x="471" y="899">38</text><text x="763" y="814">33</text><text x="709" y="869">36</text><text x="872" y="768">29</text><text x="869" y="813">30</text><text x="964" y="885">74</text><text x="1041" y="929">74</text><text x="951" y="942">45</text><text x="889" y="939">20</text><text x="857" y="951">22</text><text x="821" y="951">66</text><text x="809" y="981">65</text><text x="640" y="929">37</text><text x="626" y="977">61</text><text x="386" y="968">49</text><text x="200" y="1004">39</text><text x="1195" y="558">52</text><text x="1284" y="683">29</text><text x="1324" y="658">30</text><text x="1373" y="651">19</text><text x="1411" y="598">66</text><text x="1448" y="611">65</text><text x="1486" y="636">37</text><text x="1399" y="509">73</text><text x="1476" y="452">36</text><text x="1515" y="454">61</text><text x="1433" y="426">22</text><text x="1433" y="394">33</text><text x="1301" y="403">38</text><text x="1281" y="419">73</text><text x="1215" y="462">8</text><text x="1179" y="501">25</text><text x="1108" y="513">28</text><text x="1135" y="401">10</text><text x="1147" y="295">32</text><text x="1128" y="263">33</text><text x="1169" y="324">34</text><text x="1208" y="306">66</text><text x="1233" y="290">65</text><text x="1463" y="263">39</text><text x="1455" y="335">49</text><text x="1203" y="799">24</text><text x="1449" y="775">57</text><text x="1472" y="882">56</text><text x="1448" y="923">55</text><text x="1446" y="951">54</text><text x="1444" y="985">53</text>
<text transform="translate(34 518) rotate(90)" style="font-size:17px">2</text>
</g>
</svg>
</body></html>
